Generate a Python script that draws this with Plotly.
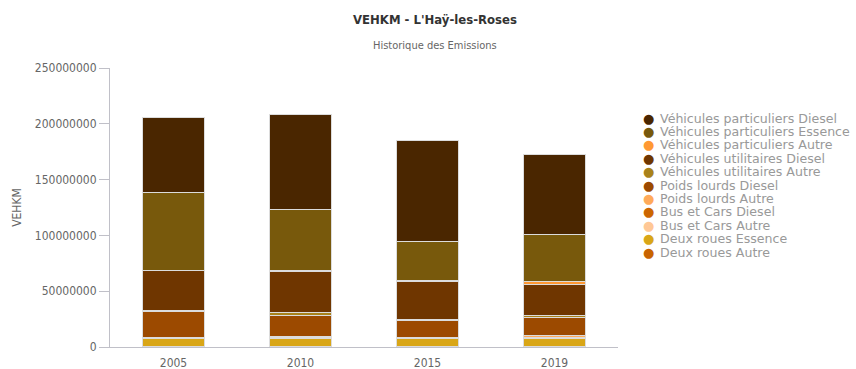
import plotly.graph_objects as go

years = ["2005", "2010", "2015", "2019"]

# series in legend order (top of legend / top of stack first)
series_names = [
    "Véhicules particuliers Diesel",
    "Véhicules particuliers Essence",
    "Véhicules particuliers Autre",
    "Véhicules utilitaires Diesel",
    "Véhicules utilitaires Autre",
    "Poids lourds Diesel",
    "Poids lourds Autre",
    "Bus et Cars Diesel",
    "Bus et Cars Autre",
    "Deux roues Essence",
    "Deux roues Autre",
]

vp_diesel = [66700000, 85400000, 90200000, 71700000]
vp_essence = [70000000, 55000000, 35000000, 41600000]
vp_autre = [300000, 300000, 600000, 3200000]
vu_diesel = [35500000, 37000000, 34400000, 27700000]
vu_autre = [1500000, 2700000, 600000, 1800000]
pl_diesel = [23000000, 19200000, 15500000, 16400000]
pl_autre = [200000, 200000, 200000, 1300000]
bus_diesel = [1000000, 1000000, 800000, 1200000]
bus_autre = [100000, 100000, 100000, 200000]
dr_essence = [7000000, 7600000, 7300000, 7000000]
dr_autre = [200000, 200000, 200000, 200000]

series_values = [vp_diesel, vp_essence, vp_autre, vu_diesel, vu_autre,
                 pl_diesel, pl_autre, bus_diesel, bus_autre, dr_essence, dr_autre]

colors = ["#4a2600", "#78590c", "#ff9933", "#6f3600", "#a9821a",
          "#9c4a00", "#ffaa5a", "#cc6600", "#ffc896", "#d9a617", "#c86400"]

y_ticks = [0, 50000000, 100000000, 150000000, 200000000, 250000000]

fig = go.Figure()
# add bottom of stack first
for name, vals, col in reversed(list(zip(series_names, series_values, colors))):
    fig.add_trace(go.Bar(
        x=years, y=vals, name=name,
        marker=dict(color=col, line=dict(color="#dcdcdc", width=1)),
        showlegend=False,
    ))

tick_font = dict(family="DejaVu Sans Condensed, DejaVu Sans", size=12, color="#666666")

fig.update_layout(
    barmode="stack",
    bargap=0.51,
    width=856, height=369,
    margin=dict(l=110, r=238, t=68, b=22, autoexpand=False),
    paper_bgcolor="white",
    plot_bgcolor="white",
    xaxis=dict(
        type="category", automargin=False,
        showline=True, linecolor="#c0c0c8", linewidth=1,
        showgrid=False, ticks="outside", ticklen=5, tickcolor="rgba(0,0,0,0)",
        tickfont=tick_font,
    ),
    yaxis=dict(
        range=[0, 250000000], automargin=False,
        tickvals=y_ticks,
        ticktext=[str(v) for v in y_ticks],
        showline=True, linecolor="#c0c0c8", linewidth=1,
        showgrid=False, zeroline=False,
        ticks="outside", ticklen=10, tickcolor="#c0c0c8",
        tickfont=tick_font,
        title=dict(text="VEHKM", font=tick_font, standoff=10),
    ),
)

annotations = [
    dict(text="<b>VEHKM - L'Haÿ-les-Roses</b>", xref="paper", yref="paper",
         x=0.64, y=1 + 48 / 279, xanchor="center", yanchor="middle", showarrow=False,
         font=dict(family="DejaVu Sans Condensed, DejaVu Sans", size=13, color="#333333")),
    dict(text="Historique des Emissions", xref="paper", yref="paper",
         x=0.64, y=1 + 23 / 279, xanchor="center", yanchor="middle", showarrow=False,
         font=dict(family="DejaVu Sans Condensed, DejaVu Sans", size=11, color="#666666")),
]

# custom compact legend
for i, (name, col) in enumerate(zip(series_names, colors)):
    ys = -50 - i * 13.4
    annotations.append(dict(
        text="●", xref="paper", yref="paper", x=1, y=1, xshift=30, yshift=ys,
        xanchor="center", yanchor="middle", showarrow=False,
        font=dict(family="DejaVu Sans", size=13, color=col)))
    annotations.append(dict(
        text=name, xref="paper", yref="paper", x=1, y=1, xshift=40, yshift=ys,
        xanchor="left", yanchor="middle", showarrow=False,
        font=dict(family="DejaVu Sans", size=12.6, color="#999999")))

fig.update_layout(annotations=annotations)

fig.write_html("out.html", config={"displayModeBar": False},
               post_script="document.body.style.margin='0px';")
